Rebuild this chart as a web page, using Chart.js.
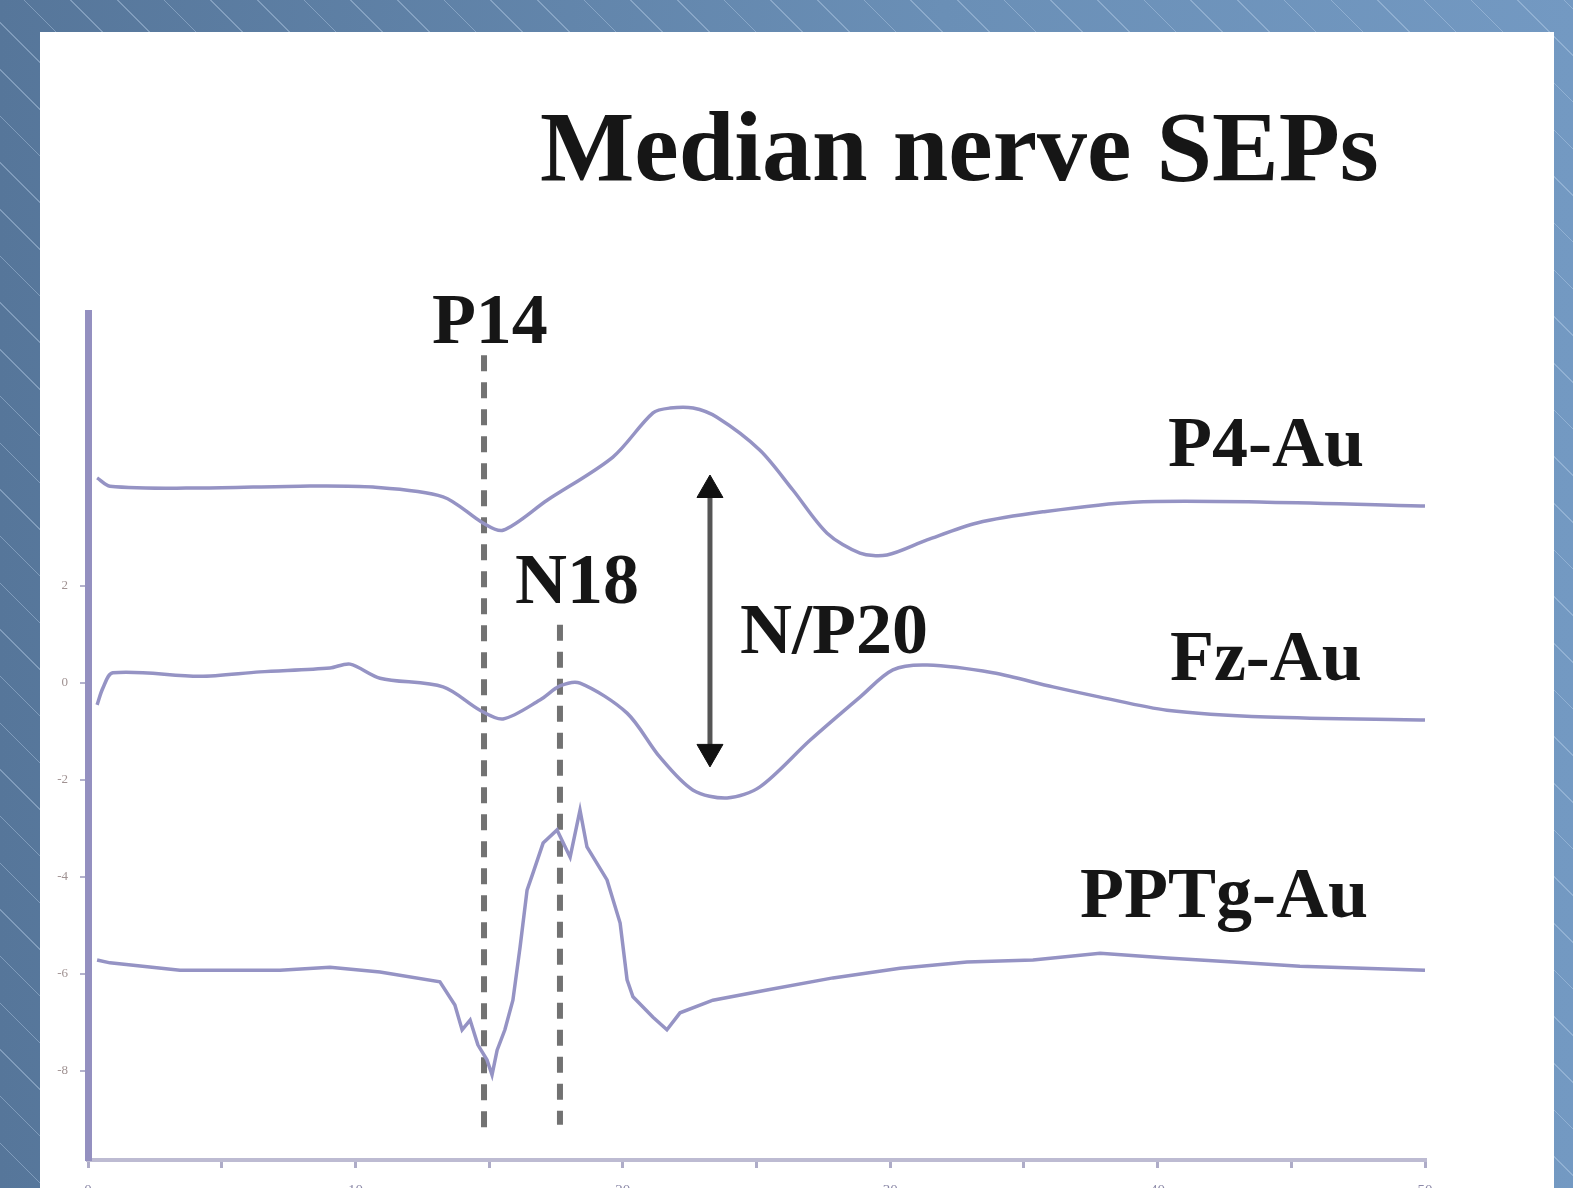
<!DOCTYPE html>
<html lang="en">
<head>
<meta charset="UTF-8">
<title>Median nerve SEPs</title>
<style>
  html, body { margin: 0; padding: 0; overflow: hidden; }
  body {
    width: 1573px; height: 1188px; position: relative;
    background:
      repeating-linear-gradient(45deg, rgba(255,255,255,0) 0 31.5px, rgba(190,212,236,0.4) 31.5px 32.5px, rgba(255,255,255,0) 32.5px 33px),
      linear-gradient(to right, #56769a, #6a8fb6 60%, #7399c2);
  }
  .panel { position: absolute; left: 40px; top: 32px; width: 1514px; height: 1200px; background: #fff; }
  .wrap { position: absolute; left: 0; top: 0; width: 1573px; height: 1200px; }
</style>
</head>
<body>
<div class="panel"></div>
<div class="wrap"><canvas id="sep"></canvas></div>
<script src="https://cdn.jsdelivr.net/npm/chart.js"></script>
<script>
// latency in ms, amplitude in uV
const p4Time   = [0.34, 0.82, 4.19, 7.93, 10.66, 13.28, 14.77, 15.52, 17.17, 19.63, 21.13, 21.77, 22.63, 23.52, 25.13, 26.36, 27.64, 28.87, 29.88, 31.38, 33.25, 35.71, 39.08, 44.09, 50];
const p4Values = [4.23, 4.06, 4.02, 4.06, 4.04, 3.84, 3.30, 3.15, 3.77, 4.66, 5.57, 5.67, 5.67, 5.48, 4.80, 3.98, 3.09, 2.68, 2.64, 2.95, 3.30, 3.53, 3.73, 3.73, 3.65];

const fzTime   = [0.34, 0.56, 0.93, 4.19, 6.43, 9.05, 9.80, 10.92, 13.28, 14.66, 15.52, 16.90, 17.65, 18.40, 20.16, 21.39, 22.63, 23.90, 25.13, 27.00, 28.87, 30.10, 31.38, 33.84, 36.09, 37.85, 40.35, 44.09, 50];
const fzValues = [-0.45, -0.10, 0.21, 0.14, 0.23, 0.31, 0.39, 0.10, -0.08, -0.56, -0.74, -0.35, -0.06, 0, -0.62, -1.53, -2.21, -2.37, -2.14, -1.18, -0.29, 0.27, 0.37, 0.21, -0.08, -0.29, -0.56, -0.70, -0.76];

const pptgTime   = [0.34, 0.82, 3.44, 7.18, 9.05, 10.92, 13.16, 13.72, 13.99, 14.29, 14.58, 14.92, 15.11, 15.30, 15.59, 15.89, 16.16, 16.42, 16.64, 17.02, 17.54, 18.03, 18.40, 18.66, 19.41, 19.90, 20.16, 20.38, 21.13, 21.65, 22.14, 23.37, 25.39, 27.86, 30.37, 32.87, 35.34, 37.85, 40.35, 42.82, 45.32, 50];
const pptgValues = [-5.71, -5.77, -5.92, -5.92, -5.86, -5.96, -6.16, -6.64, -7.15, -6.95, -7.46, -7.77, -8.08, -7.57, -7.15, -6.54, -5.44, -4.27, -3.92, -3.30, -3.03, -3.59, -2.62, -3.38, -4.06, -4.95, -6.12, -6.47, -6.89, -7.15, -6.80, -6.54, -6.33, -6.08, -5.88, -5.75, -5.71, -5.57, -5.67, -5.75, -5.84, -5.92];

// peak markers (dashed verticals) and the N/P20 amplitude arrow
const markerTimes  = [14.81, 17.65];
const markerTops   = [6.76, 1.20];
const markerBottoms = [-9.32, -9.11];
const arrowTime = 23.26;
const arrowEnds = [3.98, -1.42];

// axis ticks
const xTickValues = [0, 5, 10, 15, 20, 25, 30, 35, 40, 45, 50];
const xTickLabels = ['0', '', '10', '', '20', '', '30', '', '40', '', '50'];
const yTickValues = [2, 0, -2, -4, -6, -8];

// text labels: text, time, amplitude (baseline)
const labelTexts  = ['P14', 'P4-Au', 'N18', 'N/P20', 'Fz-Au', 'PPTg-Au'];
const labelTimes  = [12.86, 40.39, 15.97, 24.38, 40.46, 37.10];
const labelValues = [7.01, 4.47, 1.65, 0.62, 0.06, -4.82];
const titleText = 'Median nerve SEPs';
const titleTime = 16.9, titleValue = 10.37;

const pts = (t, v) => t.map((x, i) => ({ x: x, y: v[i] }));
const traceColor = '#9593c4';
const serif = '"Liberation Serif", "Times New Roman", serif';

const datasets = [
  { data: pts(p4Time, p4Values), borderColor: traceColor, borderWidth: 3.5, tension: 0.3 },
  { data: pts(fzTime, fzValues), borderColor: traceColor, borderWidth: 3.5, tension: 0.3 },
  { data: pts(pptgTime, pptgValues), borderColor: traceColor, borderWidth: 3.5, tension: 0 }
];
markerTimes.forEach((t, i) => {
  datasets.push({
    data: [{ x: t, y: markerTops[i] }, { x: t, y: markerBottoms[i] }],
    borderColor: '#727272', borderWidth: 6, borderDash: [16, 11]
  });
});
datasets.push({
  data: [{ x: arrowTime, y: arrowEnds[0] }, { x: arrowTime, y: arrowEnds[1] }],
  borderColor: '#555', borderWidth: 5,
  pointRadius: 15, pointStyle: 'triangle', pointRotation: [0, 180],
  pointBackgroundColor: '#111', pointBorderColor: '#111', pointBorderWidth: 1
});

const textPlugin = {
  id: 'sepText',
  afterDatasetsDraw(chart) {
    const { ctx, scales: { x, y } } = chart;
    ctx.save();
    ctx.fillStyle = '#161616';
    ctx.textAlign = 'left';
    ctx.textBaseline = 'alphabetic';
    ctx.font = 'bold 100px ' + serif;
    ctx.fillText(titleText, x.getPixelForValue(titleTime), y.getPixelForValue(titleValue));
    ctx.font = 'bold 72px ' + serif;
    labelTexts.forEach((s, i) => {
      ctx.fillText(s, x.getPixelForValue(labelTimes[i]), y.getPixelForValue(labelValues[i]));
    });
    ctx.restore();
  }
};

new Chart(document.getElementById('sep'), {
  type: 'scatter',
  data: { datasets: datasets.map(d => Object.assign({ showLine: true, pointRadius: 0, fill: false }, d)) },
  options: {
    responsive: true,
    maintainAspectRatio: false,
    animation: false,
    layout: { padding: { left: 0, right: 148, top: 313, bottom: 0 } },
    plugins: { legend: { display: false }, tooltip: { enabled: false } },
    scales: {
      x: {
        type: 'linear', min: 0, max: 50,
        afterFit: s => { s.height = 40; },
        afterBuildTicks: s => { s.ticks = xTickValues.map(v => ({ value: v })); },
        ticks: {
          callback: (v, i) => xTickLabels[i],
          color: '#8c89a8', font: { size: 15, family: serif }, padding: 14, maxRotation: 0, autoSkip: false
        },
        grid: { drawOnChartArea: false, tickLength: 8, color: '#aeacc8', lineWidth: 3 },
        border: { color: '#bdbbd2', width: 4 }
      },
      y: {
        type: 'linear', min: -9.835, max: 7.63,
        afterFit: s => { s.width = 88; },
        afterBuildTicks: s => { s.ticks = yTickValues.map(v => ({ value: v })); },
        ticks: { color: '#a09292', font: { size: 13, family: serif }, padding: 12, autoSkip: false },
        grid: { drawOnChartArea: false, tickLength: 8, color: '#b4b2cc', lineWidth: 2 },
        border: { color: '#9490c0', width: 7 }
      }
    }
  },
  plugins: [textPlugin]
});
</script>
</body>
</html>
